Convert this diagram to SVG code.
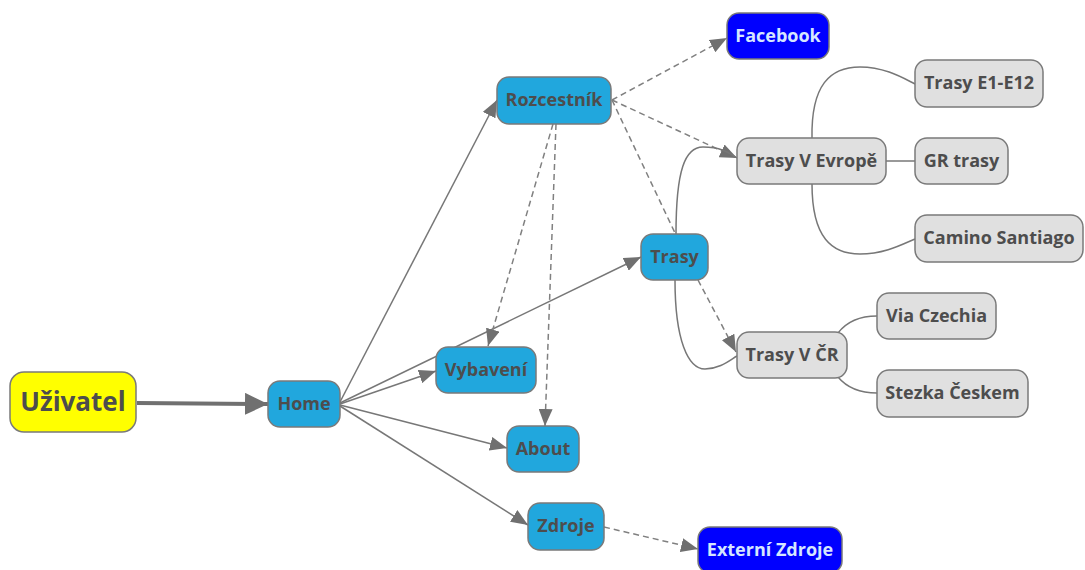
<svg xmlns="http://www.w3.org/2000/svg" width="1085" height="570" viewBox="0 0 1085 570">
<defs>
<marker id="ah" markerUnits="userSpaceOnUse" markerWidth="18" markerHeight="14" refX="17" refY="7" orient="auto"><path d="M0,0 L17,7 L0,14 z" fill="#707070"/></marker>
<marker id="ahb" markerUnits="userSpaceOnUse" markerWidth="24" markerHeight="22" refX="23" refY="11" orient="auto"><path d="M0,0 L23,11 L0,22 z" fill="#707070"/></marker>
<style>
.n rect{stroke:#7a7a7a;stroke-width:1.5}
.b rect{fill:#21a7dd}
.g rect{fill:#e0e0e0}
.x rect{fill:#0000ff}
.n text{font-family:"Open Sans","Noto Sans",sans-serif;font-weight:bold;font-size:18px;fill:#4d4d4d;text-anchor:middle}
.x text{fill:#d6e6ff}
.s{fill:none;stroke:#777;stroke-width:1.5}
.d{fill:none;stroke:#808080;stroke-width:1.5;stroke-dasharray:6,4}
</style>
</defs>
<rect width="1085" height="570" fill="#fff"/>
<g id="connectors">
<path d="M137,403 L268,404" fill="none" stroke="#707070" stroke-width="4" marker-end="url(#ahb)"/>
<path class="s" d="M340,402 L497,100" marker-end="url(#ah)"/>
<path class="s" d="M340,403 L641,257" marker-end="url(#ah)"/>
<path class="s" d="M340,404 L436,371" marker-end="url(#ah)"/>
<path class="s" d="M340,405 L507,448" marker-end="url(#ah)"/>
<path class="s" d="M340,406 L528,525" marker-end="url(#ah)"/>
<path class="d" d="M612,100 L727,38" marker-end="url(#ah)"/>
<path class="d" d="M612,100 L737,158" marker-end="url(#ah)"/>
<path class="d" d="M612,100 L675,233"/>
<path class="d" d="M553,124 L488,346" marker-end="url(#ah)"/>
<path class="d" d="M556,124 L545,426" marker-end="url(#ah)"/>
<path class="d" d="M698,280 L736,352" marker-end="url(#ah)"/>
<path class="d" d="M604,527 L698,549" marker-end="url(#ah)"/>
<path class="s" d="M676,234 C676,170 685,147 703,147 C720,147 728,152 737,158"/>
<path class="s" d="M675,280 C675,340 688,369 705,369 C720,369 730,360 737,356"/>
<path class="s" d="M812,138 C811,85 830,67 860,67 C885,67 903,78 915,84"/>
<path class="s" d="M886,161 L915,161"/>
<path class="s" d="M812,184 C812,238 832,254 860,254 C885,254 903,244 915,239"/>
<path class="s" d="M838,333 C848,320 862,316 877,316"/>
<path class="s" d="M838,377 C848,389 862,393 877,393"/>
</g>
<g id="uzivatel" class="n"><rect x="10" y="372" width="126" height="60" rx="14" fill="#ffff00"/><text x="73" y="411" style="font-size:26px">Uživatel</text></g>
<g id="home" class="n b"><rect x="268" y="381" width="72" height="46" rx="12"/><text x="304" y="410">Home</text></g>
<g id="rozcestnik" class="n b"><rect x="497" y="77" width="114" height="47" rx="12"/><text x="554" y="106">Rozcestník</text></g>
<g id="facebook" class="n x"><rect x="727" y="13" width="102" height="46" rx="12"/><text x="778" y="42">Facebook</text></g>
<g id="trasy" class="n b"><rect x="641" y="234" width="67" height="46" rx="12"/><text x="674.5" y="263">Trasy</text></g>
<g id="vybaveni" class="n b"><rect x="436" y="347" width="100" height="46" rx="12"/><text x="486" y="376">Vybavení</text></g>
<g id="about" class="n b"><rect x="507" y="426" width="72" height="46" rx="12"/><text x="543" y="455">About</text></g>
<g id="zdroje" class="n b"><rect x="528" y="503" width="76" height="47" rx="12"/><text x="566" y="532">Zdroje</text></g>
<g id="externi-zdroje" class="n x"><rect x="698" y="527" width="144" height="46" rx="12"/><text x="770" y="556">Externí Zdroje</text></g>
<g id="trasy-v-evrope" class="n g"><rect x="737" y="138" width="149" height="46" rx="12"/><text x="811.5" y="167">Trasy V Evropě</text></g>
<g id="trasy-e1-e12" class="n g"><rect x="915" y="60" width="128" height="47" rx="12"/><text x="979" y="89">Trasy E1-E12</text></g>
<g id="gr-trasy" class="n g"><rect x="915" y="138" width="93" height="46" rx="12"/><text x="961.5" y="167">GR trasy</text></g>
<g id="camino-santiago" class="n g"><rect x="915" y="215" width="168" height="47" rx="12"/><text x="999" y="244">Camino Santiago</text></g>
<g id="trasy-v-cr" class="n g"><rect x="737" y="332" width="110" height="46" rx="12"/><text x="792" y="361">Trasy V ČR</text></g>
<g id="via-czechia" class="n g"><rect x="877" y="293" width="119" height="46" rx="12"/><text x="936.5" y="322">Via Czechia</text></g>
<g id="stezka-ceskem" class="n g"><rect x="877" y="370" width="151" height="47" rx="12"/><text x="952.5" y="399">Stezka Českem</text></g>
</svg>
